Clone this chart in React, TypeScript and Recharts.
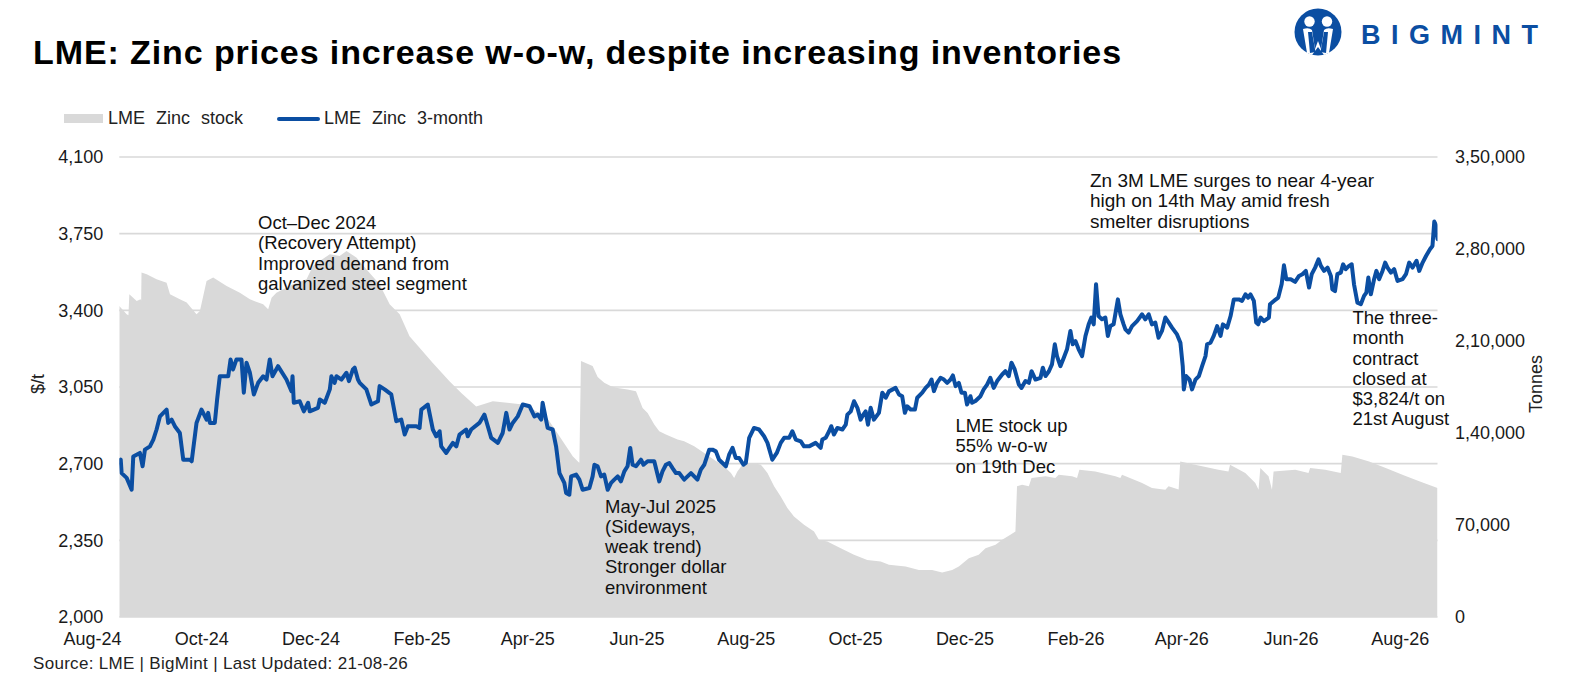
import React from 'react';
import { ComposedChart, Area, Line, XAxis, YAxis, CartesianGrid } from 'recharts';

// x values are days counted from 1 Aug 2024
const xTickDays = [0, 61, 122, 184, 243, 304, 365, 426, 487, 549, 608, 669, 730];
const xTickLabels = ['Aug-24', 'Oct-24', 'Dec-24', 'Feb-25', 'Apr-25', 'Jun-25', 'Aug-25', 'Oct-25', 'Dec-25', 'Feb-26', 'Apr-26', 'Jun-26', 'Aug-26'];
const priceTicks = [2000, 2350, 2700, 3050, 3400, 3750, 4100];
const stockTicks = [0, 70000, 140000, 210000, 280000, 350000];

const priceDays = [
  15.0, 15.8, 16.3, 19.1, 21.9, 22.8, 26.5, 28.0, 29.3, 32.1, 34.0, 35.8, 37.7, 41.4, 42.3, 44.2, 46.0, 48.8, 50.7, 54.4,
  55.4, 58.1, 60.9, 63.7, 64.6, 65.6, 68.3, 69.6, 71.1, 75.8, 77.1, 78.5, 80.4, 83.2, 84.5, 86.0, 87.9, 90.1, 92.5, 95.3,
  97.2, 99.0, 100.5, 103.6, 108.3, 111.1, 111.7, 112.4, 115.7, 118.0, 120.4, 121.3, 125.9, 126.9, 129.7, 132.5, 133.4, 135.2, 136.2, 139.0,
  141.8, 143.2, 145.4, 146.4, 148.2, 149.2, 152.9, 155.7, 159.4, 160.3, 163.1, 166.8, 169.6, 172.4, 174.3, 176.1, 180.8, 182.6, 183.6, 187.2,
  190.0, 191.9, 193.8, 194.7, 197.5, 199.3, 201.2, 203.1, 204.9, 208.6, 209.5, 211.4, 216.0, 218.8, 220.7, 222.6, 226.3, 229.0, 231.0, 232.8,
  234.6, 237.4, 240.2, 244.0, 246.7, 248.6, 250.5, 251.3, 254.1, 256.9, 258.8, 260.7, 263.4, 264.4, 266.2, 267.2, 270.0, 271.8, 273.6, 277.4,
  279.2, 280.2, 282.0, 283.9, 285.7, 287.6, 289.5, 291.3, 293.2, 295.0, 296.9, 298.7, 300.2, 301.5, 303.4, 306.2, 307.6, 309.9, 313.6, 316.4,
  318.2, 320.1, 322.0, 323.8, 325.7, 327.5, 330.3, 332.2, 334.1, 335.9, 337.7, 339.6, 341.5, 344.3, 346.1, 348.0, 349.8, 351.7, 353.6, 355.4,
  357.3, 359.1, 361.0, 363.4, 364.7, 366.6, 369.3, 372.1, 374.9, 376.8, 378.7, 379.5, 382.0, 384.2, 386.1, 388.9, 390.7, 392.6, 395.4, 397.2,
  400.0, 403.7, 406.5, 407.4, 409.3, 411.2, 412.4, 413.9, 415.8, 418.6, 420.5, 421.4, 423.3, 425.1, 427.0, 428.8, 430.3, 431.6, 432.9, 434.4,
  436.2, 439.0, 440.9, 442.8, 444.6, 448.3, 450.2, 452.0, 453.5, 454.8, 456.7, 459.1, 460.4, 463.2, 465.1, 466.9, 468.4, 469.7, 471.5, 473.4,
  475.3, 477.1, 479.0, 480.3, 481.8, 483.6, 485.1, 487.0, 488.2, 490.1, 491.0, 492.9, 495.7, 497.5, 499.4, 501.2, 503.1, 505.0, 507.8, 509.6,
  511.5, 513.0, 514.8, 517.1, 518.6, 520.8, 522.7, 524.2, 526.4, 529.2, 530.5, 532.0, 533.9, 535.6, 537.2, 538.4, 540.3, 542.2, 544.0, 545.9,
  547.2, 548.7, 550.5, 552.4, 554.3, 556.1, 557.6, 558.9, 560.2, 561.6, 563.5, 565.4, 566.8, 568.2, 570.0, 572.4, 573.8, 575.6, 576.6, 578.4,
  580.3, 583.1, 585.9, 587.7, 589.6, 591.4, 593.3, 595.1, 597.0, 598.9, 600.7, 602.6, 605.4, 607.3, 608.6, 609.2, 610.5, 612.4, 613.8, 615.7,
  617.6, 619.4, 621.3, 622.2, 624.1, 625.9, 627.8, 629.7, 631.0, 633.4, 635.3, 637.1, 639.9, 641.7, 643.6, 645.1, 646.4, 648.3, 649.6, 650.7,
  652.1, 653.9, 656.7, 657.3, 659.5, 661.9, 663.8, 665.1, 666.4, 668.9, 671.3, 673.5, 675.4, 677.3, 679.1, 680.6, 682.5, 684.4, 685.7, 687.5,
  689.4, 691.3, 692.1, 693.6, 694.9, 696.8, 698.1, 699.6, 701.4, 702.9, 704.2, 706.1, 708.0, 709.8, 711.1, 712.2, 713.6, 715.4, 716.7, 718.2,
  720.1, 721.6, 722.9, 724.8, 726.6, 728.5, 731.3, 733.2, 735.0, 736.9, 739.1, 740.6, 742.5, 744.4, 746.6, 748.0, 749.0, 749.9, 750.8,
];
const priceValues = [
  2711, 2718, 2657, 2635, 2581, 2733, 2749, 2688, 2764, 2779, 2810, 2856, 2916, 2947, 2886, 2901, 2871, 2840, 2718, 2718,
  2711, 2886, 2947, 2901, 2932, 2886, 2886, 2993, 3099, 3099, 3176, 3130, 3176, 3176, 3024, 3161, 3115, 3016, 3069, 3099,
  3084, 3176, 3099, 3145, 3084, 3031, 3099, 2978, 2985, 2939, 2978, 2939, 2955, 2993, 2978, 3039, 3099, 3069, 3099, 3084,
  3115, 3077, 3130, 3138, 3084, 3069, 3039, 2970, 2985, 3054, 3039, 3016, 2894, 2901, 2833, 2871, 2871, 2863, 2947, 2970,
  2856, 2825, 2848, 2779, 2749, 2772, 2795, 2779, 2833, 2856, 2825, 2856, 2886, 2924, 2871, 2818, 2795, 2840, 2932, 2856,
  2886, 2916, 2970, 2962, 2916, 2924, 2901, 2978, 2863, 2856, 2779, 2657, 2612, 2566, 2558, 2642, 2650, 2627, 2581, 2589,
  2642, 2695, 2688, 2642, 2650, 2581, 2612, 2627, 2642, 2619, 2665, 2688, 2772, 2695, 2688, 2718, 2695, 2711, 2711, 2619,
  2665, 2695, 2703, 2680, 2657, 2657, 2627, 2642, 2657, 2642, 2627, 2673, 2695, 2764, 2764, 2756, 2718, 2703, 2688, 2741,
  2772, 2726, 2726, 2695, 2703, 2818, 2863, 2856, 2825, 2795, 2741, 2718, 2749, 2795, 2818, 2818, 2848, 2810, 2802, 2779,
  2779, 2795, 2772, 2810, 2818, 2848, 2871, 2833, 2863, 2856, 2878, 2924, 2939, 2985, 2955, 2901, 2924, 2939, 2878, 2955,
  2901, 2932, 3024, 3001, 3030, 3046, 3016, 3008, 2932, 2962, 2947, 2947, 3001, 3024, 3046, 3061, 3084, 3031, 3069, 3092,
  3084, 3069, 3084, 3103, 3054, 3069, 3024, 3024, 2970, 3008, 2978, 2986, 3008, 3039, 3061, 3092, 3046, 3077, 3107, 3122,
  3100, 3161, 3130, 3061, 3046, 3077, 3069, 3122, 3084, 3092, 3138, 3100, 3122, 3153, 3245, 3191, 3145, 3184, 3222, 3306,
  3245, 3260, 3222, 3191, 3283, 3336, 3367, 3336, 3519, 3374, 3359, 3367, 3283, 3328, 3336, 3450, 3382, 3336, 3313, 3298,
  3328, 3351, 3382, 3359, 3382, 3336, 3344, 3275, 3306, 3367, 3345, 3321, 3290, 3252, 3145, 3039, 3100, 3084, 3039, 3084,
  3100, 3145, 3191, 3245, 3252, 3283, 3328, 3283, 3336, 3321, 3374, 3450, 3450, 3443, 3473, 3458, 3473, 3443, 3344, 3336,
  3367, 3351, 3367, 3428, 3443, 3458, 3519, 3606, 3542, 3542, 3530, 3557, 3565, 3580, 3504, 3565, 3595, 3633, 3603, 3580,
  3595, 3557, 3496, 3488, 3565, 3572, 3610, 3588, 3603, 3610, 3519, 3435, 3428, 3466, 3481, 3550, 3473, 3542, 3580, 3542,
  3580, 3618, 3595, 3572, 3588, 3534, 3542, 3565, 3618, 3595, 3626, 3580, 3618, 3648, 3679, 3694, 3805, 3790, 3725,
];

const stockDays = [
  15.0, 19.1, 20.1, 20.6, 24.7, 26.9, 27.2, 27.4, 30.3, 35.8, 41.4, 43.3, 48.8, 52.6, 58.1, 60.0, 63.7, 67.4, 74.9, 82.3,
  87.9, 95.3, 98.1, 100.0, 102.7, 112.0, 119.5, 123.1, 126.9, 132.5, 138.0, 141.8, 147.3, 152.9, 160.3, 165.9, 171.5, 177.0, 182.6, 190.0,
  199.3, 205.9, 214.2, 223.5, 232.8, 240.2, 245.8, 253.2, 260.7, 268.1, 271.8, 272.7, 279.2, 282.0, 285.7, 289.5, 293.2, 298.7, 303.4, 307.1,
  309.9, 313.6, 316.4, 320.1, 326.6, 330.3, 335.9, 341.5, 347.0, 352.6, 356.4, 358.2, 360.0, 362.8, 369.3, 373.1, 376.8, 380.5, 384.2, 387.9,
  391.6, 397.2, 402.8, 405.5, 410.2, 417.7, 425.1, 432.5, 440.0, 444.6, 453.9, 461.3, 468.7, 474.3, 479.9, 483.6, 489.2, 494.7, 498.5, 504.1,
  507.8, 512.4, 515.2, 516.1, 518.9, 522.7, 524.2, 532.0, 537.5, 539.4, 546.8, 549.6, 550.9, 559.8, 571.0, 573.8, 574.7, 585.9, 591.4, 598.9,
  600.7, 606.3, 607.2, 615.5, 628.5, 634.1, 635.0, 643.5, 649.1, 650.9, 651.9, 656.5, 658.4, 659.3, 671.4, 678.8, 679.7, 688.1, 696.8, 697.7,
  703.3, 712.6, 721.9, 731.2, 740.6, 750.8,
];
const stockValues = [
  236600, 230300, 229500, 245500, 240400, 241700, 240800, 262100, 260800, 257000, 254400, 245500, 241700, 239200, 230300, 232800, 255700, 258300, 251900, 246800,
  241700, 237900, 234100, 243000, 246800, 253200, 257000, 267100, 270900, 276000, 274700, 278500, 273500, 264600, 253200, 237900, 230300, 213700, 204800, 193300,
  179300, 170400, 160200, 164200, 162900, 161700, 157800, 152700, 137500, 122300, 117200, 194700, 190900, 182700, 178200, 175600, 174300, 173100, 171800, 159100,
  155300, 146400, 141300, 138800, 135000, 133700, 129900, 124800, 119700, 114600, 109600, 105800, 110800, 115900, 117200, 115900, 109600, 99400, 91700, 82900,
  76500, 70200, 65000, 58700, 57400, 52400, 47300, 43400, 42200, 39700, 38400, 35800, 35800, 33800, 35800, 38400, 44700, 47300, 52400, 54900,
  58700, 62500, 65000, 99400, 100600, 99400, 105800, 107000, 105800, 108300, 107000, 105800, 112100, 110800, 107000, 105800, 108300, 101900, 98100, 96800,
  99400, 97000, 118400, 115900, 112100, 110800, 115900, 109600, 101900, 96800, 113400, 107000, 96800, 110800, 112100, 109600, 113400, 112100, 109600, 123500,
  122200, 118400, 113400, 108300, 103200, 98100,
];

const priceName = 'LME Zinc 3-month';
const stockName = 'LME Zinc stock';

const priceData = priceDays.map((d, i) => ({ d, price: priceValues[i] }));
const stockData = stockDays.map((d, i) => ({ d, stock: stockValues[i] }));

const BLUE = '#0B4EA2';
const GREY = '#D9D9D9';
const FONT = '"Liberation Sans", Arial, sans-serif';

const fmtPrice = (v: number) => v.toLocaleString('en-US');
const fmtIndian = (v: number) => {
  const s = String(Math.round(v));
  if (s.length <= 3) return s;
  const last3 = s.slice(-3);
  const rest = s.slice(0, -3).replace(/\B(?=(\d{2})+(?!\d))/g, ',');
  return rest + ',' + last3;
};
const fmtX = (v: number) => {
  const i = xTickDays.indexOf(v);
  return i >= 0 ? xTickLabels[i] : '';
};

const tickStyle = { fill: '#1a1a1a', fontSize: 18, fontFamily: FONT };

const annStyle: React.CSSProperties = {
  position: 'absolute',
  fontSize: 18.5,
  lineHeight: '20.3px',
  color: '#111',
  whiteSpace: 'pre',
  fontFamily: FONT,
};

function Logo() {
  return (
    <svg width={60} height={54} viewBox="0 0 60 54" style={{ position: 'absolute', left: 1288, top: 5 }}>
      <circle cx={30} cy={27} r={23.5} fill={BLUE} />
      <circle cx={21.5} cy={16.5} r={5.2} fill="#fff" />
      <circle cx={39} cy={16.5} r={5.2} fill="#fff" />
      <path d="M15 24 Q21 22 24 25 L27 44 L30 36 L33 44 L36 25 Q39 22 45 24 L41 48 L36 50 L30 42 L24 50 L19 48 Z" fill="#fff" />
      <path d="M20 27 L24 27 L27.5 47 L22 48 Z" fill={BLUE} />
      <path d="M40 27 L36 27 L32.5 47 L38 48 Z" fill={BLUE} />
    </svg>
  );
}

export default function App() {
  return (
    <div style={{ position: 'absolute', left: 0, top: 0, width: 1579, height: 685, background: '#fff', fontFamily: FONT, overflow: 'hidden' }}>
      <div style={{ position: 'absolute', left: 33, top: 32, fontSize: 34, fontWeight: 700, lineHeight: '40px', color: '#000', whiteSpace: 'pre', letterSpacing: 0.9 }}>
        LME: Zinc prices increase w-o-w, despite increasing inventories
      </div>
      <Logo />
      <div style={{ position: 'absolute', left: 1361, top: 19, fontSize: 27, fontWeight: 900, lineHeight: '32px', color: BLUE, letterSpacing: 10.5 }}>
        BIGMINT
      </div>

      {/* legend */}
      <div style={{ position: 'absolute', left: 64, top: 114, width: 39, height: 9, background: GREY }} />
      <div style={{ position: 'absolute', left: 108, top: 107, fontSize: 18, lineHeight: '22px', color: '#222', wordSpacing: 6, whiteSpace: 'pre' }}>{stockName}</div>
      <div style={{ position: 'absolute', left: 277, top: 116.5, width: 43, height: 4, background: BLUE, borderRadius: 2 }} />
      <div style={{ position: 'absolute', left: 324, top: 107, fontSize: 18, lineHeight: '22px', color: '#222', wordSpacing: 6, whiteSpace: 'pre' }}>{priceName}</div>

      <div style={{ position: 'absolute', left: 0, top: 0 }}>
        <ComposedChart width={1579} height={685} margin={{ top: 157, right: 20, bottom: 38, left: 19 }}>
          <CartesianGrid vertical={false} stroke="#D9D9D9" strokeWidth={1.6} yAxisId="left" />
          <XAxis
            dataKey="d"
            type="number"
            domain={[15, 750.8]}
            ticks={xTickDays}
            tickFormatter={fmtX}
            interval={0}
            axisLine={false}
            tickLine={false}
            tickMargin={9}
            height={30}
            tick={tickStyle}
            allowDataOverflow
          />
          <YAxis
            yAxisId="left"
            domain={[2000, 4100]}
            ticks={priceTicks}
            tickFormatter={fmtPrice}
            axisLine={false}
            tickLine={false}
            tickMargin={10}
            width={100.3}
            tick={tickStyle}
            interval={0}
          />
          <YAxis
            yAxisId="right"
            orientation="right"
            domain={[0, 350000]}
            ticks={stockTicks}
            tickFormatter={fmtIndian}
            axisLine={false}
            tickLine={false}
            tickMargin={11.5}
            width={121.5}
            tick={{ ...tickStyle, textAnchor: 'start' }}
            interval={0}
          />
          <Area
            yAxisId="right"
            data={stockData}
            dataKey="stock"
            name={stockName}
            type="linear"
            fill={GREY}
            fillOpacity={1}
            stroke="none"
            isAnimationActive={false}
            dot={false}
            activeDot={false}
          />
          <Line
            yAxisId="left"
            data={priceData}
            dataKey="price"
            name={priceName}
            type="linear"
            stroke={BLUE}
            strokeWidth={4}
            strokeLinejoin="round"
            strokeLinecap="round"
            dot={false}
            activeDot={false}
            isAnimationActive={false}
          />
        </ComposedChart>
      </div>

      {/* axis titles */}
      <div style={{ position: 'absolute', left: 38, top: 384, fontSize: 18, color: '#222', transform: 'translate(-50%, -50%) rotate(-90deg)', whiteSpace: 'pre' }}>$/t</div>
      <div style={{ position: 'absolute', left: 1536, top: 384, fontSize: 18, color: '#222', transform: 'translate(-50%, -50%) rotate(-90deg)', whiteSpace: 'pre' }}>Tonnes</div>

      {/* annotations */}
      <div style={{ ...annStyle, left: 258, top: 213 }}>{'Oct–Dec 2024\n(Recovery Attempt)\nImproved demand from\ngalvanized steel segment'}</div>
      <div style={{ ...annStyle, left: 605, top: 496.5 }}>{'May-Jul 2025\n(Sideways,\nweak trend)\nStronger dollar\nenvironment'}</div>
      <div style={{ ...annStyle, left: 955.5, top: 416 }}>{'LME stock up\n55% w-o-w\non 19th Dec'}</div>
      <div style={{ ...annStyle, left: 1090, top: 171, fontSize: 19 }}>{'Zn 3M LME surges to near 4-year\nhigh on 14th May amid fresh\nsmelter disruptions'}</div>
      <div style={{ ...annStyle, left: 1352.5, top: 308 }}>{'The three-\nmonth\ncontract\nclosed at\n$3,824/t on\n21st August'}</div>

      <div style={{ position: 'absolute', left: 33, top: 653, fontSize: 17, lineHeight: '22px', color: '#222', whiteSpace: 'pre', letterSpacing: 0.3 }}>
        Source: LME | BigMint | Last Updated: 21-08-26
      </div>
    </div>
  );
}
